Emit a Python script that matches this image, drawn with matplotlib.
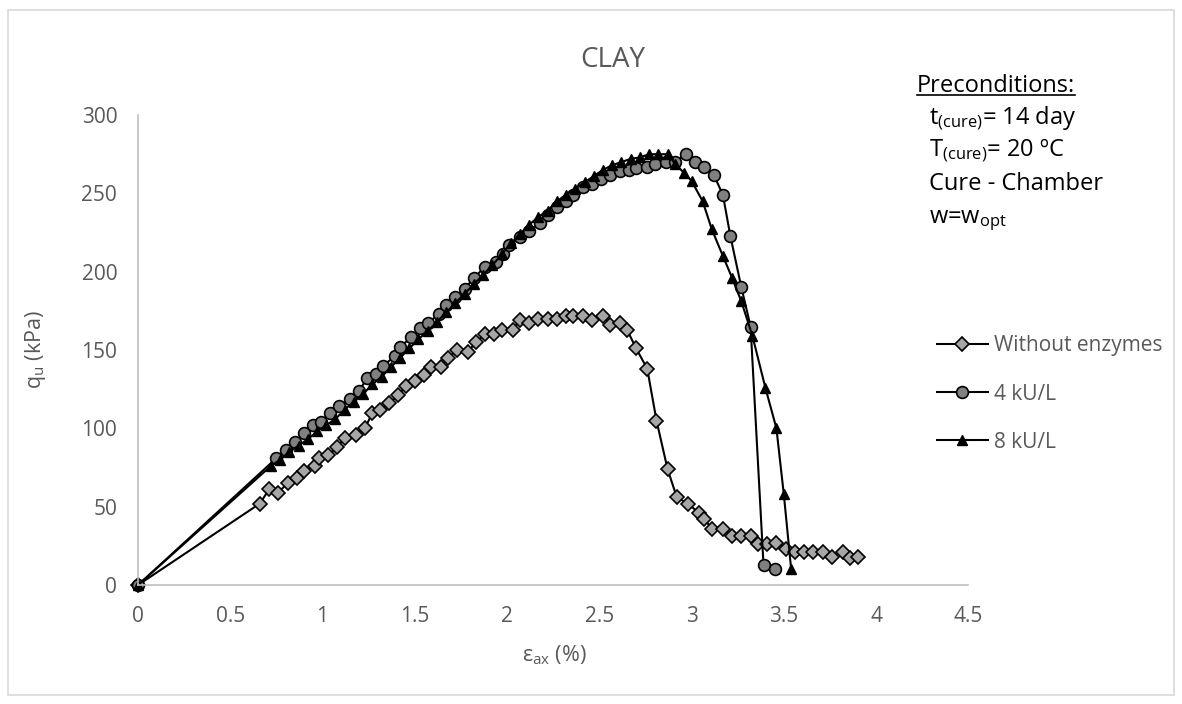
import matplotlib
matplotlib.use('Agg')
import matplotlib.pyplot as plt
from matplotlib.patches import Rectangle
from matplotlib.lines import Line2D

plt.rcParams['font.family'] = ['Open Sans', 'DejaVu Sans']
plt.rcParams['mathtext.fontset'] = 'custom'
plt.rcParams['mathtext.rm'] = 'Open Sans'
plt.rcParams['mathtext.it'] = 'Open Sans:italic'

# --- data ---
x_none = [0, 0.66, 0.71, 0.76, 0.81, 0.86, 0.90, 0.96, 0.98, 1.03, 1.08, 1.12, 1.18, 1.23,
          1.27, 1.31, 1.36, 1.41, 1.45, 1.50, 1.55, 1.59, 1.64, 1.68, 1.73, 1.79, 1.83, 1.88,
          1.93, 1.97, 2.03, 2.07, 2.12, 2.17, 2.22, 2.27, 2.32, 2.36, 2.41, 2.46, 2.52, 2.56,
          2.61, 2.65, 2.70, 2.76, 2.81, 2.87, 2.92, 2.98, 3.04, 3.07, 3.11, 3.17, 3.22, 3.27,
          3.32, 3.36, 3.41, 3.46, 3.51, 3.56, 3.61, 3.66, 3.71, 3.76, 3.82, 3.86, 3.90]
q_none = [0, 52, 61, 59, 65, 68, 73, 76, 81, 83, 88, 94, 96, 100,
          110, 112, 116, 121, 127, 130, 134, 139, 139, 145, 150, 149, 155, 160,
          160, 163, 163, 169, 167, 170, 170, 170, 172, 172, 172, 169, 172, 166,
          167, 163, 151, 138, 105, 74, 56, 52, 46, 42, 36, 36, 31, 31,
          31, 26, 26, 27, 23, 21, 21, 21, 21, 18, 21, 17, 18]

x_4 = [0, 0.75, 0.80, 0.85, 0.90, 0.95, 0.99, 1.04, 1.09, 1.15, 1.20, 1.24, 1.29, 1.33,
       1.39, 1.42, 1.48, 1.53, 1.57, 1.63, 1.67, 1.72, 1.77, 1.82, 1.88, 1.94, 1.98, 2.01,
       2.07, 2.12, 2.18, 2.22, 2.27, 2.32, 2.36, 2.41, 2.46, 2.51, 2.56, 2.61, 2.66, 2.70,
       2.76, 2.80, 2.86, 2.91, 2.97, 3.02, 3.07, 3.12, 3.17, 3.21, 3.27, 3.32, 3.39, 3.45]
q_4 = [0, 81, 86, 91, 97, 102, 104, 110, 114, 119, 124, 132, 135, 140,
       146, 152, 158, 164, 167, 173, 179, 184, 189, 196, 203, 206, 211, 217,
       222, 226, 231, 236, 241, 245, 249, 254, 256, 259, 262, 264, 265, 266,
       267, 269, 270, 270, 275, 270, 267, 262, 249, 223, 190, 165, 13, 10]

x_8 = [0, 0.72, 0.77, 0.82, 0.87, 0.92, 0.97, 1.02, 1.07, 1.12, 1.17, 1.22, 1.27, 1.32,
       1.37, 1.42, 1.47, 1.52, 1.57, 1.62, 1.67, 1.72, 1.77, 1.82, 1.87, 1.92, 1.97, 2.02,
       2.07, 2.12, 2.17, 2.22, 2.27, 2.32, 2.37, 2.42, 2.47, 2.52, 2.57, 2.62, 2.67, 2.72,
       2.77, 2.82, 2.87, 2.91, 2.96, 3.00, 3.06, 3.11, 3.17, 3.22, 3.27, 3.33, 3.40, 3.46,
       3.50, 3.54]
q_8 = [0, 76, 80, 85, 89, 93, 98, 102, 106, 112, 117, 122, 128, 133,
       139, 145, 151, 157, 162, 168, 174, 180, 186, 192, 198, 204, 211, 218,
       224, 230, 235, 239, 245, 249, 253, 257, 261, 265, 268, 270, 272, 273,
       275, 275, 275, 269, 263, 258, 245, 227, 210, 196, 181, 159, 126, 100,
       58, 10]

labels = ['Without enzymes', '4 kU/L', '8 kU/L']
x_ticks = [0, 0.5, 1, 1.5, 2, 2.5, 3, 3.5, 4, 4.5]
y_ticks = [0, 50, 100, 150, 200, 250, 300]

txt_gray = '#595959'
ax_gray = '#bfbfbf'

fig = plt.figure(figsize=(11.82, 7.04), dpi=100)
ax = fig.add_axes([0.1168, 0.169, 0.8192 - 0.1168, 0.8366 - 0.169])

ax.plot(x_none, q_none, '-D', color='black', lw=1.5, ms=7,
        mfc='#a6a6a6', mec='black', mew=1.2, label=labels[0], clip_on=False)
ax.plot(x_4, q_4, '-o', color='black', lw=1.5, ms=8.5,
        mfc='#808080', mec='black', mew=1.2, label=labels[1], clip_on=False)
ax.plot(x_8, q_8, '-^', color='black', lw=1.5, ms=7.5,
        mfc='black', mec='black', mew=1.0, label=labels[2], clip_on=False)

ax.set_xlim(0, 4.5)
ax.set_ylim(0, 300)
ax.set_xticks(x_ticks)
ax.set_xticklabels([f'{t:g}' for t in x_ticks])
ax.set_yticks(y_ticks)
ax.tick_params(length=0, labelsize=15, labelcolor=txt_gray)
ax.tick_params(axis='y', pad=15)
ax.tick_params(axis='x', pad=15)
for s in ['top', 'right']:
    ax.spines[s].set_visible(False)
for s in ['left', 'bottom']:
    ax.spines[s].set_color(ax_gray)
    ax.spines[s].set_linewidth(1.2)
ax.patch.set_visible(False)

fig.text(0.518, 1 - 60 / 704, 'CLAY', fontsize=20, color=txt_gray, ha='center', va='center')
fig.text(0.469, 1 - 655 / 704, r'ε$_{\mathrm{ax}}$ (%)', fontsize=15.5, color=txt_gray,
         ha='center', va='center')
fig.text(0.030, 1 - 350 / 704, r'q$_{\mathrm{u}}$ (kPa)', fontsize=15.5, color=txt_gray,
         ha='center', va='center', rotation=90)

leg = fig.legend(loc='center left', bbox_to_anchor=(0.7927, 1 - 394 / 704),
                 frameon=False, fontsize=15, handlelength=2.45, handletextpad=0.3,
                 labelspacing=1.3, borderaxespad=0, borderpad=0)
for t in leg.get_texts():
    t.set_color(txt_gray)

# preconditions note
head = fig.text(0.7758, 0.8693, 'Preconditions:', fontsize=17, color='black', va='baseline')
notes = [r't$_{\mathrm{(cure)}}$= 14 day', r'T$_{\mathrm{(cure)}}$= 20 ºC',
         'Cure - Chamber', r'w=w$_{\mathrm{opt}}$']
note_y = [0.8224, 0.777, 0.730, 0.683]
for s, yy in zip(notes, note_y):
    fig.text(0.786, yy, s, fontsize=17, color='black', va='baseline')

fig.canvas.draw()
bb = head.get_window_extent().transformed(fig.transFigure.inverted())
fig.add_artist(Line2D([bb.x0, bb.x1], [0.8645, 0.8645], color='black', lw=1.2,
                      transform=fig.transFigure))

fig.add_artist(Rectangle((0.007, 0.013), 0.986, 0.973, transform=fig.transFigure,
                         fill=False, edgecolor='#d9d9d9', lw=1.2))

fig.savefig('out.png', dpi=100)
